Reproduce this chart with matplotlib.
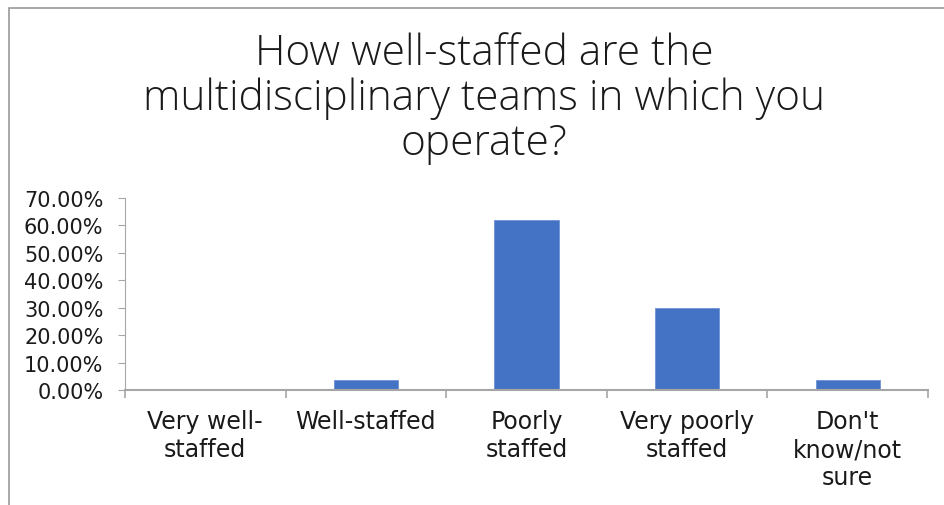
import matplotlib
matplotlib.use("Agg")
import matplotlib.pyplot as plt
from matplotlib.patches import Rectangle
from matplotlib.ticker import PercentFormatter

categories = ["Very well-\nstaffed", "Well-staffed", "Poorly\nstaffed",
              "Very poorly\nstaffed", "Don't\nknow/not\nsure"]
shares = [0.0, 3.8, 62.0, 30.0, 3.8]
yticks = [0, 10, 20, 30, 40, 50, 60, 70]

title = "How well-staffed are the\nmultidisciplinary teams in which you\noperate?"

axis_grey = "#a6a6a6"
bar_blue = "#4472c4"
text_col = "#1a1a1a"


def main():
  fig = plt.figure(figsize=(9.44, 5.06), dpi=100)
  ax = fig.add_axes([125 / 944, 1 - 391 / 506, (928 - 125) / 944, (391 - 199) / 506])

  x = range(len(categories))
  ax.bar(x, shares, width=0.4, color=bar_blue, edgecolor="#6f93d6", linewidth=0.6, zorder=2)

  ax.set_xlim(-0.5, len(categories) - 0.5)
  ax.set_ylim(0, 70)
  ax.set_yticks(yticks)
  ax.yaxis.set_major_formatter(PercentFormatter(decimals=2))
  ax.tick_params(axis="y", length=5, color=axis_grey, labelsize=15, labelcolor=text_col, pad=10.5)

  # category ticks sit on the boundaries, labels in the middle
  ax.set_xticks([i - 0.5 for i in range(len(categories) + 1)])
  ax.set_xticklabels([])
  ax.set_xticks(list(x), minor=True)
  ax.set_xticklabels(categories, minor=True, fontsize=17, color=text_col, linespacing=1.2, va="top")
  ax.tick_params(axis="x", which="major", length=6, color=axis_grey, width=1.2)
  ax.tick_params(axis="x", which="minor", length=0, pad=14)

  for side in ["top", "right"]:
    ax.spines[side].set_visible(False)
  ax.spines["left"].set_color(axis_grey)
  ax.spines["bottom"].set_color(axis_grey)
  ax.spines["bottom"].set_linewidth(1.5)

  fig.text(484 / 944, 1 - 99 / 506, title, ha="center", va="center", fontsize=30.5,
           family="Open Sans", fontweight="light", color=text_col, linespacing=1.07)

  # chart frame, only top and left edges are inside the picture
  fig.patches.append(Rectangle((9 / 944, -0.2), 1.2, 1.2 - 8.5 / 506,
                               transform=fig.transFigure, fill=False,
                               edgecolor="#9a9a9a", linewidth=1.2))

  fig.savefig("out.png", dpi=100)


if __name__ == "__main__":
  main()
